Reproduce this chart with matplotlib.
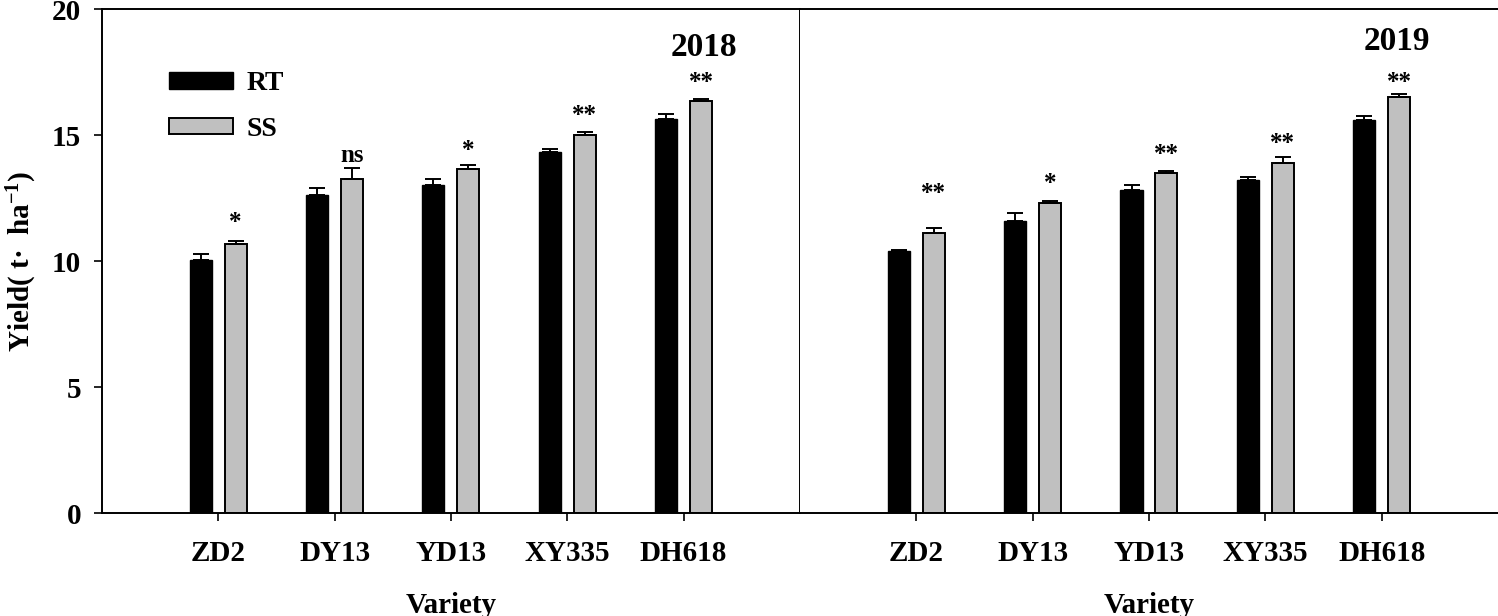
import matplotlib
matplotlib.use("Agg")
import matplotlib.pyplot as plt
from matplotlib.patches import Patch
import numpy as np

plt.rcParams['font.family'] = ['Liberation Serif', 'DejaVu Serif']
plt.rcParams['font.weight'] = 'bold'
plt.rcParams['mathtext.fontset'] = 'custom'
plt.rcParams['mathtext.rm'] = 'Liberation Serif:bold'
plt.rcParams['mathtext.default'] = 'rm'

varieties = ['ZD2', 'DY13', 'YD13', 'XY335', 'DH618']
years = ['2018', '2019']

# mean yield (t/ha) and standard error, per year
rt_2018 = [10.04, 12.62, 13.02, 14.33, 15.66]
rt_err_2018 = [0.26, 0.30, 0.23, 0.13, 0.19]
ss_2018 = [10.70, 13.28, 13.64, 14.99, 16.34]
ss_err_2018 = [0.12, 0.40, 0.18, 0.13, 0.10]

rt_2019 = [10.41, 11.60, 12.82, 13.21, 15.62]
rt_err_2019 = [0.05, 0.30, 0.21, 0.12, 0.15]
ss_2019 = [11.12, 12.30, 13.49, 13.90, 16.53]
ss_err_2019 = [0.20, 0.08, 0.08, 0.23, 0.11]

# significance marks and their heights
sig_2018 = ['*', 'ns', '*', '**', '**']
sig_y_2018 = [11.55, 14.21, 14.40, 15.79, 17.10]
sig_2019 = ['**', '*', '**', '**', '**']
sig_y_2019 = [12.70, 13.10, 14.25, 14.68, 17.10]

panels = [
    (rt_2018, rt_err_2018, ss_2018, ss_err_2018, sig_2018, sig_y_2018),
    (rt_2019, rt_err_2019, ss_2019, ss_err_2019, sig_2019, sig_y_2019),
]

fig = plt.figure(figsize=(14.98, 6.16), dpi=100)
ax1 = fig.add_axes([0.068, 0.167, 0.466, 0.818])
ax2 = fig.add_axes([0.534, 0.167, 0.466, 0.818])
axes = [ax1, ax2]

x = np.arange(1, len(varieties) + 1)
w = 0.19
off = 0.15

for i, ax in enumerate(axes):
    rt, rt_err, ss, ss_err, sig, sig_y = panels[i]
    ax.bar(x - off, rt, w, color='black', edgecolor='black', linewidth=1,
           yerr=[np.zeros(len(rt)), rt_err], capsize=6,
           error_kw={'elinewidth': 1.4, 'capthick': 1.4, 'ecolor': 'black'})
    ax.bar(x + off, ss, w, color='#c0c0c0', edgecolor='black', linewidth=1.4,
           yerr=[np.zeros(len(ss)), ss_err], capsize=6,
           error_kw={'elinewidth': 1.4, 'capthick': 1.4, 'ecolor': 'black'})
    for j in range(len(varieties)):
        ax.text(x[j] + off, sig_y[j], sig[j], ha='center', va='center',
                fontsize=18, fontweight='bold')
    ax.set_xlim(0, 6)
    ax.set_ylim(0, 20)
    ax.set_xticks(x)
    ax.set_xticklabels(varieties, fontsize=21, fontweight='bold')
    ax.tick_params(axis='x', direction='out', length=6, width=1.2, pad=13)
    ax.set_xlabel('Variety', fontsize=21, fontweight='bold', labelpad=18)
    for s in ax.spines.values():
        s.set_linewidth(1.4)
    ax.spines['right'].set_visible(False)

ax1.set_yticks([0, 5, 10, 15, 20])
ax1.tick_params(axis='y', direction='out', length=6, width=1.2, labelsize=21, pad=9)
for lab in ax1.get_yticklabels():
    lab.set_fontweight('bold')
ax1.set_ylabel('Yield( t·  ha$^{-1}$)', fontsize=21, fontweight='bold', labelpad=9)
ax1.spines['right'].set_visible(True)

ax2.set_yticks([])
ax2.spines['left'].set_visible(False)

ax1.text(0.862, 0.925, years[0], transform=ax1.transAxes, fontsize=24,
         fontweight='bold', ha='center', va='center')
ax2.text(0.855, 0.935, years[1], transform=ax2.transAxes, fontsize=24,
         fontweight='bold', ha='center', va='center')

handles = [Patch(facecolor='black', edgecolor='black', label='RT'),
           Patch(facecolor='#c0c0c0', edgecolor='black', linewidth=1.4, label='SS')]
ax1.legend(handles=handles, loc='upper left', bbox_to_anchor=(0.06, 0.927),
           frameon=False, fontsize=20, handlelength=2.3, handleheight=0.55,
           labelspacing=0.75, handletextpad=0.5)

fig.savefig('out.png', dpi=100)
